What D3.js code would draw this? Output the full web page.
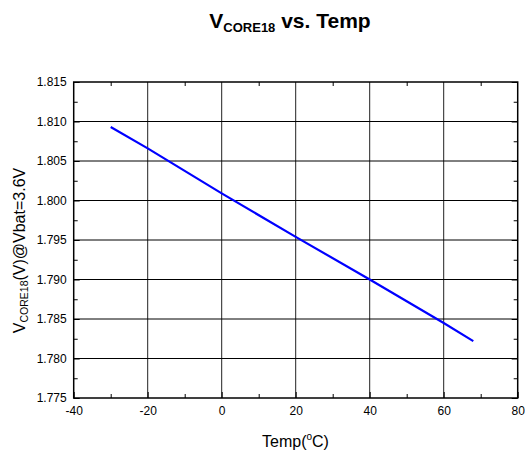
<!DOCTYPE html>
<html>
<head>
<meta charset="utf-8">
<script src="https://cdn.jsdelivr.net/npm/d3@7"></script>
<style>
  body { margin: 0; background: #fff; }
  svg { display: block; font-family: "Liberation Sans", Arial, sans-serif; }
</style>
</head>
<body>
<svg id="chart" width="525" height="453"></svg>
<script>
// readings
const temps = [-30, -20, 0, 20, 40, 60, 68];
const vcore = [1.8093, 1.8066, 1.8009, 1.7954, 1.7900, 1.7845, 1.7822];

const xTicks = [-40, -20, 0, 20, 40, 60, 80];
const xMinor = [-30, -10, 10, 30, 50, 70];
const yTicks = [1.775, 1.780, 1.785, 1.790, 1.795, 1.800, 1.805, 1.810, 1.815];
const yMinor = [1.7775, 1.7825, 1.7875, 1.7925, 1.7975, 1.8025, 1.8075, 1.8125];

const svg = d3.select('#chart');
const pLeft = 73.7, pRight = 517.7, pTop = 82, pBottom = 398;

const x = d3.scaleLinear().domain([-40, 80]).range([pLeft, pRight]);
const y = d3.scaleLinear().domain([1.775, 1.815]).range([pBottom, pTop]);

// grid
const grid = svg.append('g');
grid.selectAll('line.v').data(xTicks.slice(1, -1)).enter().append('line')
  .attr('x1', d => x(d)).attr('x2', d => x(d)).attr('y1', pTop).attr('y2', pBottom)
  .attr('stroke', '#222').attr('stroke-width', 1);
grid.selectAll('line.h').data(yTicks.slice(1, -1)).enter().append('line')
  .attr('x1', pLeft).attr('x2', pRight).attr('y1', d => y(d)).attr('y2', d => y(d))
  .attr('stroke', '#000').attr('stroke-width', 1);

// axes, ticks pointing inward
const fmt = d3.format('.3f');
svg.append('g').attr('transform', `translate(0,${pBottom})`)
  .call(d3.axisBottom(x).tickValues(xTicks).tickFormat(d => String(d))
    .tickSizeInner(-6).tickSizeOuter(0).tickPadding(8.5));
svg.append('g').attr('transform', `translate(0,${pBottom})`)
  .call(d3.axisBottom(x).tickValues(xMinor).tickSizeInner(-4).tickSizeOuter(0).tickFormat(''));
svg.append('g').attr('transform', `translate(0,${pTop})`)
  .call(d3.axisTop(x).tickValues(xMinor).tickSizeInner(-4).tickSizeOuter(0).tickFormat(''));

svg.append('g').attr('transform', `translate(${pLeft},0)`)
  .call(d3.axisLeft(y).tickValues(yTicks).tickFormat(fmt).tickSizeInner(-6).tickSizeOuter(0).tickPadding(7));
svg.append('g').attr('transform', `translate(${pLeft},0)`)
  .call(d3.axisLeft(y).tickValues(yMinor).tickSizeInner(-4).tickSizeOuter(0).tickFormat(''));
svg.append('g').attr('transform', `translate(${pRight},0)`)
  .call(d3.axisRight(y).tickValues(yMinor).tickSizeInner(-4).tickSizeOuter(0).tickFormat(''));
svg.append('g').attr('transform', `translate(${pRight},0)`)
  .call(d3.axisRight(y).tickValues(yTicks).tickSizeInner(-6).tickSizeOuter(0).tickFormat(''));

svg.selectAll('.domain').remove();
svg.selectAll('.tick line').attr('stroke', '#000').attr('stroke-width', 1);
svg.selectAll('.tick text').attr('font-size', 12).attr('fill', '#000')
  .attr('font-family', '"Liberation Sans", Arial, sans-serif');

// frame
svg.append('rect').attr('x', pLeft).attr('y', pTop)
  .attr('width', pRight - pLeft).attr('height', pBottom - pTop)
  .attr('fill', 'none').attr('stroke', '#000').attr('stroke-width', 1.5);

// curve
const pts = temps.map((t, i) => [t, vcore[i]]);
svg.append('path').datum(pts)
  .attr('d', d3.line().x(d => x(d[0])).y(d => y(d[1])))
  .attr('fill', 'none').attr('stroke', '#0000ff').attr('stroke-width', 2.2);

// title
const title = svg.append('text').attr('x', 290).attr('y', 28.3)
  .attr('text-anchor', 'middle').attr('font-weight', 'bold').attr('font-size', 21);
title.append('tspan').text('V');
title.append('tspan').attr('font-size', 13).attr('dy', 4).text('CORE18');
title.append('tspan').attr('dy', -4).text(' vs. Temp');

// x label
const xl = svg.append('text').attr('x', 295.5).attr('y', 447)
  .attr('text-anchor', 'middle').attr('font-size', 16);
xl.append('tspan').text('Temp(');
xl.append('tspan').attr('font-size', 10).attr('dy', -7).text('o');
xl.append('tspan').attr('dy', 7).text('C)');

// y label
const yl = svg.append('text')
  .attr('transform', 'translate(25,250.5) rotate(-90)')
  .attr('text-anchor', 'middle').attr('font-size', 16);
yl.append('tspan').text('V');
yl.append('tspan').attr('font-size', 10.5).attr('dy', 3).text('CORE18');
yl.append('tspan').attr('dy', -3).text('(V)@Vbat=3.6V');
</script>
</body>
</html>
